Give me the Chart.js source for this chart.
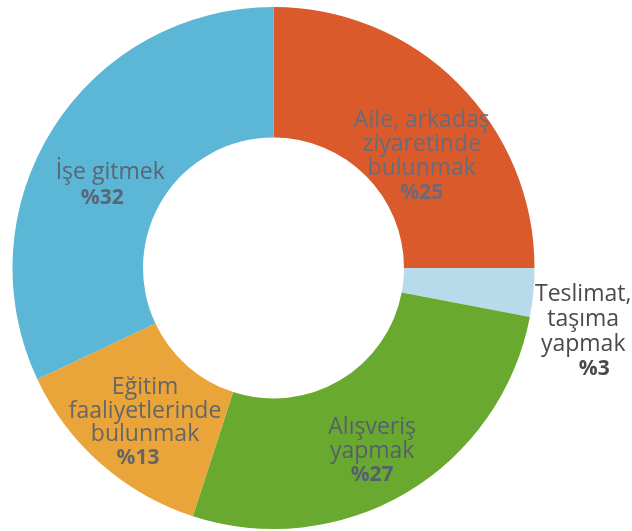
<!DOCTYPE html>
<html>
<head>
<meta charset="utf-8">
<script src="https://cdn.jsdelivr.net/npm/chart.js@4"></script>
<style>
  html, body { margin: 0; padding: 0; background: #fff; }
  #wrap { width: 632px; height: 531px; }
</style>
</head>
<body>
<div id="wrap"><canvas id="grafico-rosca"></canvas></div>
<script>
// veriler
var categories = [
    ['Aile, arkadaş', 'ziyaretinde', 'bulunmak'],
    ['Teslimat,', 'taşıma', 'yapmak'],
    ['Alışveriş', 'yapmak'],
    ['Eğitim', 'faaliyetlerinde', 'bulunmak'],
    ['İşe gitmek']
];
var percents = [25, 3, 27, 13, 32];
var colors = ['#da5a2b', '#b7dbea', '#6aa92f', '#e9a43a', '#5cb6d6'];

// label placement: radius fraction of the ring middle, plus small nudges
var labelPlace = [
    { r: 0.97, dx: 14, dy: 23, lh: 24, pdx: 0, color: '#676c7a' },
    { r: 1.62, dx: -6, dy: 34, lh: 25, pdx: 11, color: '#4a4a4a' },
    { r: 1.0, dx: -1, dy: 15, lh: 24, pdx: 0, color: '#56606c' },
    { r: 1.0, dx: 1, dy: 8, lh: 23.5, pdx: -7, color: '#666666' },
    { r: 1.0, dx: 2, dy: 22, lh: 26, pdx: -8, color: '#5a6675' }
];

var etiketler = {
    id: 'etiketler',
    afterDatasetsDraw: function(chart) {
        var ctx = chart.ctx;
        var arcs = chart.getDatasetMeta(0).data;
        ctx.save();
        ctx.textAlign = 'center';
        ctx.textBaseline = 'middle';
        arcs.forEach(function(arc, i) {
            var p = arc.getProps(['x', 'y', 'startAngle', 'endAngle', 'innerRadius', 'outerRadius']);
            var lp = labelPlace[i];
            var mid = (p.startAngle + p.endAngle) / 2;
            var rr = (p.innerRadius + p.outerRadius) / 2 * lp.r;
            var cx = p.x + Math.cos(mid) * rr + lp.dx;
            var cy = p.y + Math.sin(mid) * rr + lp.dy;
            var lines = categories[i];
            var n = lines.length + 1;
            var y0 = cy - (n - 1) * lp.lh / 2;
            ctx.fillStyle = lp.color;
            ctx.font = '23px "Open Sans", "Noto Sans", sans-serif';
            lines.forEach(function(t, k) {
                ctx.fillText(t, cx, y0 + k * lp.lh);
            });
            ctx.font = 'bold 21px "Open Sans", "Noto Sans", sans-serif';
            ctx.fillText('%' + percents[i], cx + lp.pdx, y0 + lines.length * lp.lh);
        });
        ctx.restore();
    }
};

var rosca_ctx = document.getElementById('grafico-rosca').getContext('2d');
var rosca_config = {
    type: 'doughnut',
    data: {
        labels: categories.map(function(c) { return c.join(' '); }),
        datasets: [{
            data: percents,
            backgroundColor: colors,
            borderWidth: 0
        }]
    },
    options: {
        responsive: true,
        maintainAspectRatio: false,
        animation: false,
        cutout: '50%',
        layout: {
            padding: { left: 11, right: 96, top: 7, bottom: 2 }
        },
        plugins: {
            legend: { display: false },
            tooltip: { enabled: false }
        }
    },
    plugins: [etiketler]
};
var grafico_rosca = new Chart(rosca_ctx, rosca_config);
</script>
</body>
</html>
